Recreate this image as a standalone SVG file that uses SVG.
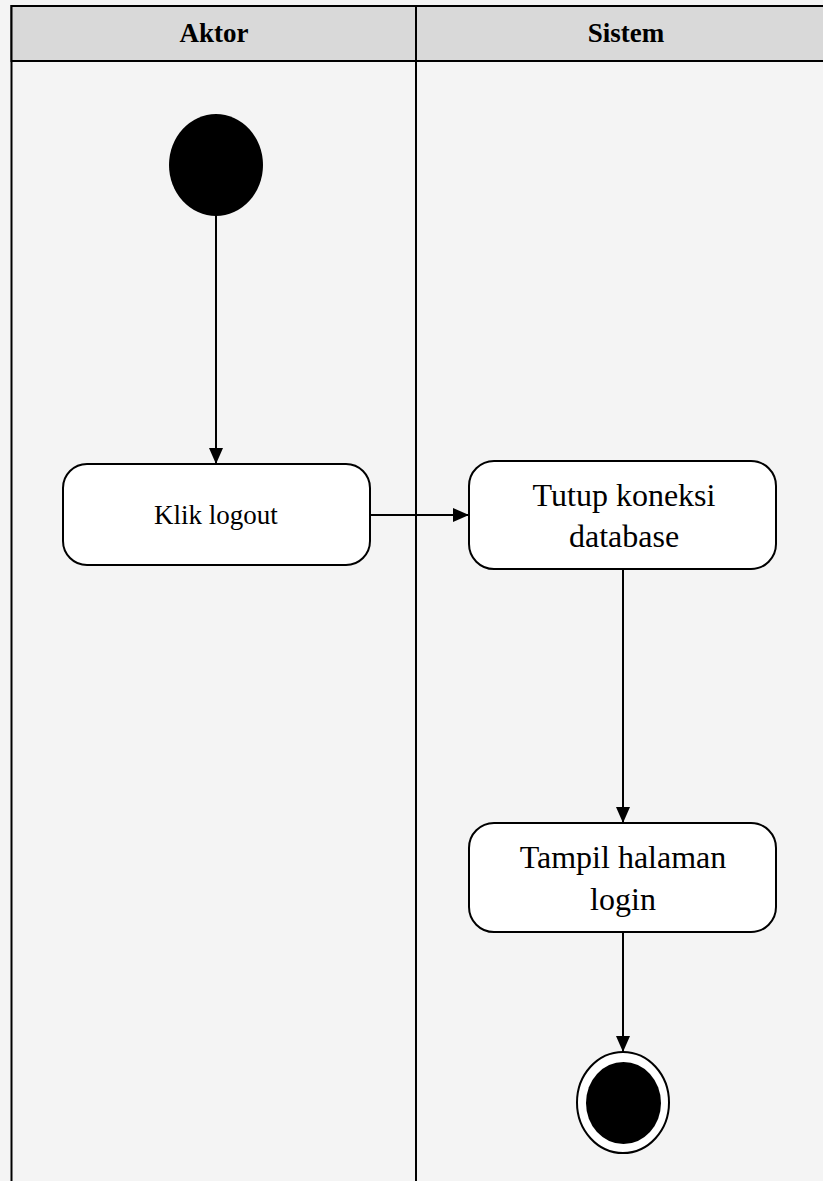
<svg xmlns="http://www.w3.org/2000/svg" width="823" height="1181" viewBox="0 0 823 1181">
<style>
.lane{fill:#f4f4f4;stroke:#000;stroke-width:2}
.hdr{fill:#d9d9d9;stroke:#000;stroke-width:2}
.hdrt{font-family:"Liberation Serif",serif;font-weight:bold;font-size:27px;text-anchor:middle;fill:#000}
.act{fill:#fff;stroke:#000;stroke-width:2}
.t{font-family:"Liberation Serif",serif;text-anchor:middle;fill:#000}
.c{fill:none;stroke:#000;stroke-width:2}
</style>
<defs>
<marker id="ah" markerWidth="16" markerHeight="14" refX="16" refY="7" orient="auto" markerUnits="userSpaceOnUse">
<path d="M0,0 L16,7 L0,14 Z" fill="#000"/>
</marker>
</defs>
<rect x="0" y="0" width="823" height="1181" fill="#f4f4f4"/>
<g id="lane-aktor">
<rect class="lane" x="11.5" y="6" width="404.5" height="1185"/>
<rect class="hdr" x="11.5" y="6" width="404.5" height="55"/>
<text class="hdrt" x="214" y="42">Aktor</text>
</g>
<g id="lane-sistem">
<rect class="lane" x="416" y="6" width="420" height="1185"/>
<rect class="hdr" x="416" y="6" width="420" height="55"/>
<text class="hdrt" x="626" y="42">Sistem</text>
</g>
<g id="connectors">
<line class="c" x1="216" y1="216" x2="216" y2="464" marker-end="url(#ah)"/>
<line class="c" x1="370" y1="515" x2="469" y2="515" marker-end="url(#ah)"/>
<line class="c" x1="623" y1="569" x2="623" y2="823" marker-end="url(#ah)"/>
<line class="c" x1="623" y1="932" x2="623" y2="1052" marker-end="url(#ah)"/>
</g>
<g id="start">
<ellipse cx="216" cy="165" rx="47" ry="51" fill="#000"/>
</g>
<g id="klik-logout">
<rect class="act" x="63" y="464" width="307" height="101" rx="24" ry="24"/>
<text class="t" x="216" y="524" font-size="27">Klik logout</text>
</g>
<g id="tutup-koneksi">
<rect class="act" x="469" y="461" width="307" height="108" rx="25" ry="25"/>
<text class="t" x="624" y="506" font-size="32">Tutup koneksi</text>
<text class="t" x="624" y="547" font-size="32">database</text>
</g>
<g id="tampil-halaman">
<rect class="act" x="469" y="823" width="307" height="109" rx="25" ry="25"/>
<text class="t" x="623" y="868" font-size="32">Tampil halaman</text>
<text class="t" x="623" y="910" font-size="32">login</text>
</g>
<g id="end">
<ellipse cx="623" cy="1102.5" rx="46" ry="50.5" fill="#fff" stroke="#000" stroke-width="2"/>
<ellipse cx="623.5" cy="1103" rx="37.5" ry="41" fill="#000"/>
</g>
</svg>
